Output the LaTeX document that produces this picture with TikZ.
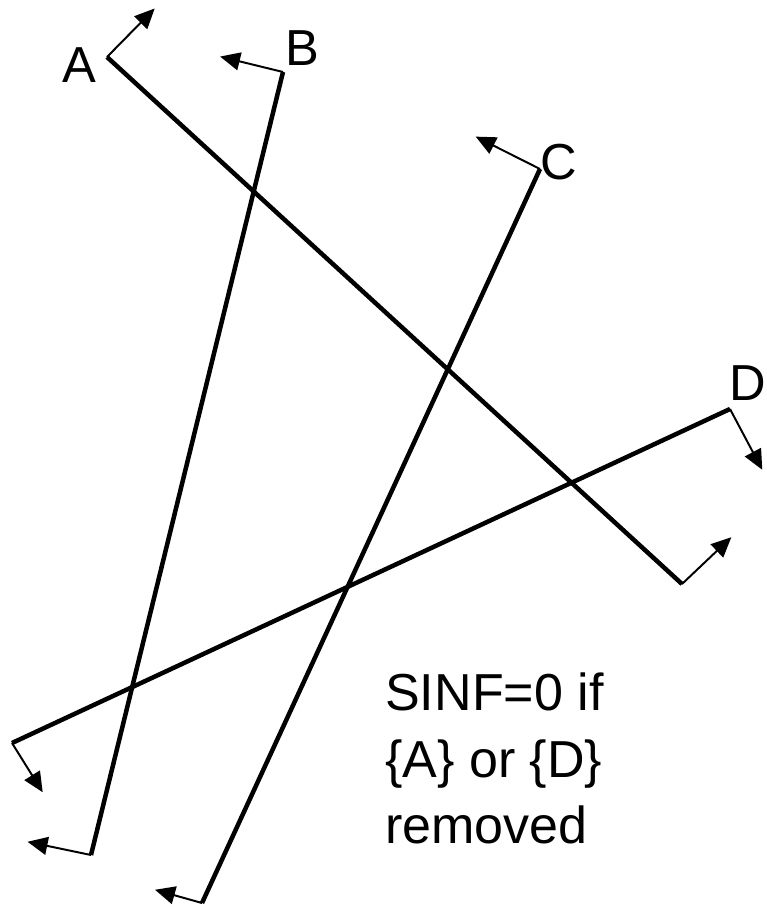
\documentclass[tikz,border=0pt]{standalone}
\usepackage{fontspec}
\setmainfont{Liberation Sans}
\usetikzlibrary{calc,arrows.meta}

\begin{document}
\begin{tikzpicture}[x=0.025cm, y=-0.025cm,
    cut/.style={line width=3.2pt},
    side/.style={line width=1.4pt, -{Triangle[length=0.5cm,width=0.45cm]}},
    lbl/.style={inner sep=0pt, font=\fontsize{36}{42}\selectfont}]
    \useasboundingbox (0,0) rectangle (767,907);

    % End points of the lines
    \coordinate (A1) at (107,57);
    \coordinate (A2) at (682,584);
    \coordinate (B1) at (283,72);
    \coordinate (B2) at (91,855);
    \coordinate (C1) at (540,169);
    \coordinate (C2) at (202,903);
    \coordinate (D1) at (730,409);
    \coordinate (D2) at (12,743);

    % Draw lines
    \draw[cut] (A1) -- (A2);
    \draw[cut] (B1) -- (B2);
    \draw[cut] (C1) -- (C2);
    \draw[cut] (D1) -- (D2);

    % Draw the side arrows at both ends
    \draw[side] (A1) -- ($(A1)!1.7cm!88:(A2)$);
    \draw[side] (A2) -- ($(A2)!1.7cm!-94:(A1)$);
    \draw[side] (B1) -- ($(B1)!1.62cm!-90:(B2)$);
    \draw[side] (B2) -- ($(B2)!1.62cm!92:(B1)$);
    \draw[side] (C1) -- ($(C1)!1.8cm!-92:(C2)$);
    \draw[side] (C2) -- ($(C2)!1.22cm!99:(C1)$);
    \draw[side] (D1) -- ($(D1)!1.72cm!93:(D2)$);
    \draw[side] (D2) -- ($(D2)!1.45cm!-83:(D1)$);

    % Labels
    \node[lbl] (la) at (79,65) {A};
    \node[lbl] (lb) at (302,48) {B};
    \node[lbl] (lc) at (559,162) {C};
    \node[lbl] (ld) at (748,383) {D};

    \node[lbl, anchor=north west, align=left, font=\fontsize{37}{47}\selectfont] (note) at (385,673)
        {SINF=0 if\\\{A\} or \{D\}\\removed};
\end{tikzpicture}
\end{document}
